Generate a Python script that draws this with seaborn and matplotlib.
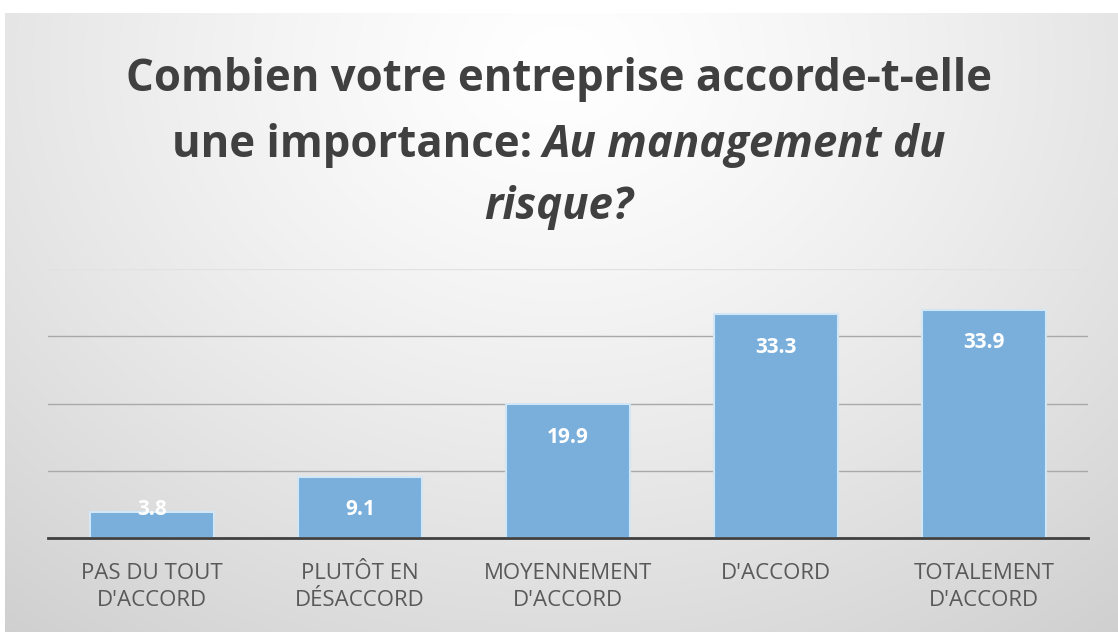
import numpy as np
import pandas as pd
import matplotlib
matplotlib.use("Agg")
import matplotlib.pyplot as plt
import seaborn as sns

# ─────────────────────────────────────────────
# DATA
# ─────────────────────────────────────────────
categories = ["PAS DU TOUT\nD'ACCORD", "PLUTÔT EN\nDÉSACCORD", "MOYENNEMENT\nD'ACCORD",
              "D'ACCORD", "TOTALEMENT\nD'ACCORD"]
values = [3.8, 9.1, 19.9, 33.3, 33.9]
value_labels = ["3.8", "9.1", "19.9", "33.3", "33.9"]
y_ticks = [10, 20, 30, 40]

df = pd.DataFrame({"categorie": categories, "valeur": values})

sns.set_theme(style="white")
plt.rcParams["font.family"] = ["Open Sans", "DejaVu Sans"]

W, H, DPI = 1118, 632, 100
fig = plt.figure(figsize=(W / DPI, H / DPI), dpi=DPI)
fig.patch.set_facecolor("white")

# ── background: radial gradient panel (Excel style) ──
bg = fig.add_axes([5 / W, 0, 1 - 5 / W, 1 - 13 / H], zorder=-5)
gx, gy = np.meshgrid(np.linspace(0, 1, 400), np.linspace(0, 1, 240))
dist = np.sqrt(((gx - 0.5) / 0.75) ** 2 + ((gy - 0.08) / 1.1) ** 2)
shade = 1.0 - 0.17 * np.clip(dist, 0, 1.2) ** 1.3
bg.imshow(np.dstack([shade] * 3), aspect="auto", extent=[0, 1, 1, 0], interpolation="bilinear")
bg.axis("off")

# ── main axes ──
ax = fig.add_axes([48 / W, (H - 538) / H, 1040 / W, 269 / H])
ax.patch.set_alpha(0)
sns.barplot(data=df, x="categorie", y="valeur", ax=ax, color="#7AAFDC",
            width=0.6, edgecolor="#D3E6F5", linewidth=1.5, saturation=1)

ax.set_ylim(0, 40)
ax.set_xlim(-0.5, len(categories) - 0.5)
ax.set_yticks(y_ticks)
ax.yaxis.grid(True, color="#A9A9A9", linewidth=1)
ax.set_axisbelow(True)
ax.yaxis.get_gridlines()[-1].set_color("#E2E2E2")
ax.tick_params(axis="y", left=False, labelleft=False)
ax.tick_params(axis="x", bottom=False, labelsize=16, labelcolor="#595959", pad=12)
for lab in ax.get_xticklabels():
    lab.set_linespacing(1.4)
ax.set_xlabel("")
ax.set_ylabel("")
for s in ["top", "right", "left"]:
    ax.spines[s].set_visible(False)
ax.spines["bottom"].set_color("#404040")
ax.spines["bottom"].set_linewidth(2)

# value labels (inside end, clamped for short bars)
for i, (v, txt) in enumerate(zip(values, value_labels)):
    ax.text(i, max(v - 4.9, 4.2), txt, ha="center", va="center",
            color="white", fontsize=15, fontweight="bold")

# ── title (mixed upright / italic) ──
title_kw = dict(fontsize=31.5, fontweight="bold", color="#404040", va="center")
fig.text(0.5, 1 - 80 / H, "Combien votre entreprise accorde-t-elle", ha="center", **title_kw)

renderer = fig.canvas.get_renderer()
part_a = fig.text(0, 1 - 145 / H, "une importance: ", ha="left", **title_kw)
part_b = fig.text(0, 1 - 145 / H, "Au management du", ha="left", fontstyle="italic", **title_kw)
wa = part_a.get_window_extent(renderer).width / W
wb = part_b.get_window_extent(renderer).width / W
x0 = 0.5 - (wa + wb) / 2
part_a.set_x(x0)
part_b.set_x(x0 + wa)

fig.text(0.5, 1 - 207 / H, "risque?", ha="center", fontstyle="italic", **title_kw)

fig.savefig("out.png", dpi=DPI)
